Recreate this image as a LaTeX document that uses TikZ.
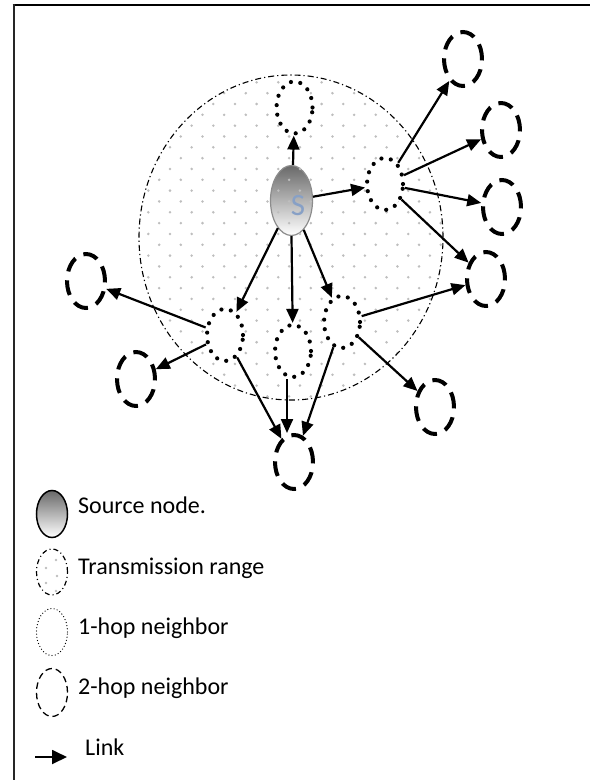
\documentclass[tikz,border=0pt]{standalone}
\usepackage{fontspec}
\setmainfont{Carlito}
\usetikzlibrary{shapes.geometric,arrows.meta}
\definecolor{sblue}{RGB}{135,160,198}
\definecolor{dotgray}{RGB}{190,190,190}
\definecolor{sdark}{RGB}{105,105,105}
\begin{document}
\begin{tikzpicture}[x=1pt,y=-1pt,
  onehop/.style={ellipse, draw, fill=white, line width=4.2pt, dash pattern=on 0pt off 9.6pt, line cap=round, minimum width=36pt, minimum height=52pt, inner sep=0pt},
  twohop/.style={ellipse, draw, fill=white, line width=4pt, dash pattern=on 15pt off 9pt, minimum width=38pt, minimum height=54pt, inner sep=0pt},
  srcnode/.style={ellipse, top color=sdark, middle color=black!10, bottom color=white, inner sep=0pt},
  link/.style={line width=2.2pt, -{Triangle[length=14pt,width=12pt]}},
  rangeline/.style={line width=1.1pt, dash pattern=on 6pt off 3pt on 1.2pt off 3pt},
  legtext/.style={anchor=base west, font=\fontsize{24}{28}\selectfont, inner sep=0pt},
]
\useasboundingbox (0,0) rectangle (590,780);
% frame
\draw[line width=2.2pt] (12.7,5) -- (590,5);
\draw[line width=1.8pt, black!85] (13.6,4) -- (13.6,780);

% source node
\node[srcnode, draw=black!45, line width=1.2pt, minimum width=42pt, minimum height=70pt] (S) at (291.5,200.5) {};

% transmission range dots
\begin{scope}
  \clip (291,237.5) ellipse [x radius=152, y radius=162.5];
  \foreach \j in {0,...,31} {
    \foreach \k in {0,...,15} {
      \fill[dotgray] ({115.85+21.66*\k+mod(\j,2)*10.83},{71.5+10.83*\j}) circle (1.4);
    }
  }
\end{scope}
\node[ellipse, draw, rangeline, minimum width=304pt, minimum height=325pt, inner sep=0pt] (range) at (291,237.5) {};

\node[text=sblue, font=\fontsize{31}{33}\selectfont, inner sep=0pt] (Stext) at (298,206) {S};

% 1-hop neighbours
\node[onehop] (T) at (294.5,107.5) {};
\node[onehop] (Q) at (385,184) {};
\node[onehop] (L) at (225,335) {};
\node[onehop] (M) at (293,351) {};
\node[onehop] (R) at (342,322) {};

% 2-hop neighbours
\node[twohop] (A) at (463,59) {};
\node[twohop] (B) at (501,130) {};
\node[twohop] (C) at (502,207) {};
\node[twohop] (D) at (486,279) {};
\node[twohop] (E) at (86,281) {};
\node[twohop] (F) at (136,379) {};
\node[twohop] (G) at (294,462) {};
\node[twohop] (H) at (435,407) {};

% links
\draw[link] ([xshift=1.5pt]S.north) -- (T);
\draw[link] (S) -- (Q);
\draw[link] (S) -- (L);
\draw[link] (S.south) -- (M);
\draw[link] (S) -- (R);
\draw[link] (Q) -- (A);
\draw[link] (Q) -- (B);
\draw[link] (Q) -- (C);
\draw[link] (Q) -- (D);
\draw[link] (L) -- (E);
\draw[link] (L) -- (F);
\draw[link] (L) -- (G);
\draw[link] ([xshift=-6pt]M.south) -- ([xshift=-7pt]G.north);
\draw[link] (R) -- (G);
\draw[link] (R) -- (D);
\draw[link] (R) -- (H);

% legend
\node[srcnode, draw=black, line width=1.5pt, minimum width=31pt, minimum height=47pt] (lgS) at (52,514) {};
\node[legtext] (lgSt) at (78,513) {Source node.};

\node[ellipse, draw, line width=1.2pt, dash pattern=on 5pt off 3pt on 1pt off 3pt, minimum width=31pt, minimum height=46pt, inner sep=0pt] (lgR) at (52,572) {};
\fill[dotgray] (56,560) circle (1.4);
\fill[dotgray] (46,568) circle (1.4);
\fill[dotgray] (57,576) circle (1.4);
\fill[dotgray] (46,583) circle (1.4);
\fill[dotgray] (56,591) circle (1.4);
\node[legtext] (lgRt) at (78,574) {Transmission range};

\node[ellipse, draw, line width=1.3pt, dash pattern=on 0pt off 3.2pt, line cap=round, minimum width=31pt, minimum height=47pt, inner sep=0pt] (lg1) at (52,632) {};
\node[legtext] (lg1t) at (78,634) {1-hop neighbor};

\node[ellipse, draw, line width=1.3pt, dash pattern=on 6.5pt off 4pt, minimum width=31pt, minimum height=48pt, inner sep=0pt] (lg2) at (52,692.5) {};
\node[legtext] (lg2t) at (78,694.5) {2-hop neighbor};

\coordinate (lkA) at (35,757);
\coordinate (lkB) at (67,757);
\draw[line width=1.8pt, -{Triangle[length=15pt,width=14pt]}] (lkA) -- (lkB);
\node[legtext] (lkt) at (85,755) {Link};
\end{tikzpicture}
\end{document}
